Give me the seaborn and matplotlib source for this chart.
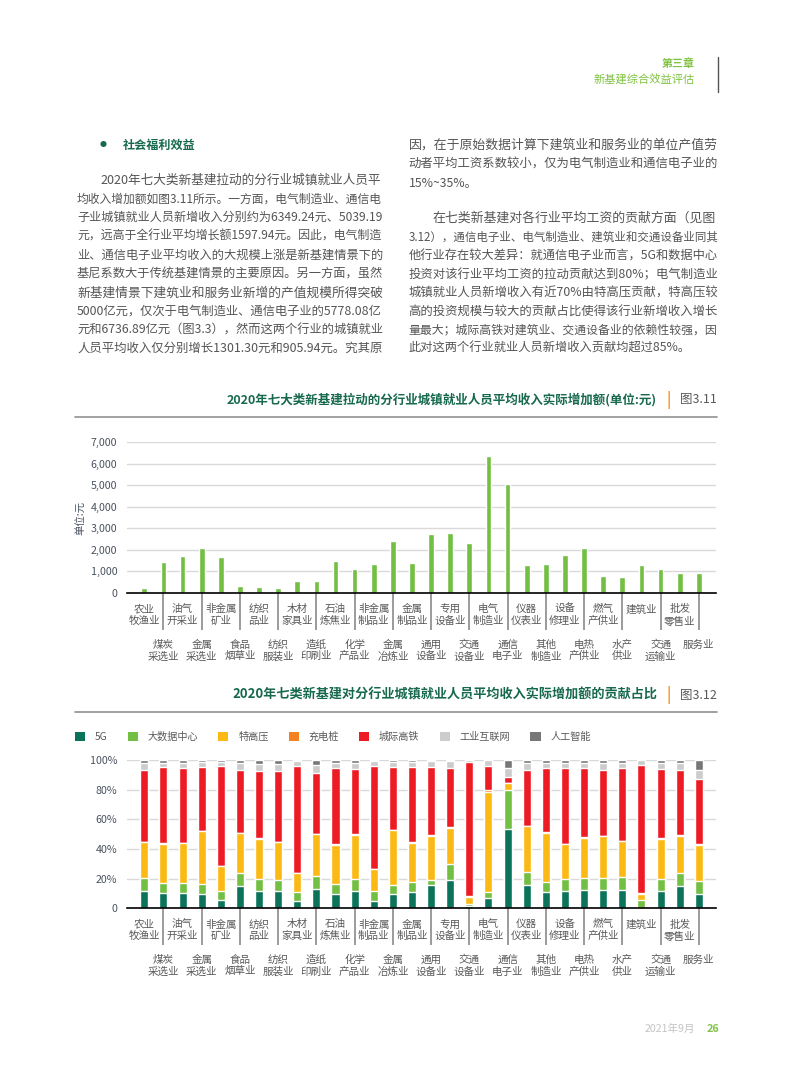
import matplotlib
matplotlib.use('Agg')
import matplotlib.pyplot as plt
import matplotlib.transforms as mtransforms
from matplotlib.lines import Line2D
from matplotlib.patches import Patch
from matplotlib.font_manager import FontProperties
import seaborn as sns
import numpy as np
import pandas as pd

# ---------------- data ----------------
categories = ['农业\n牧渔业', '煤炭\n采选业', '油气\n开采业', '金属\n采选业', '非金属\n矿业', '食品\n烟草业',
              '纺织\n品业', '纺织\n服装业', '木材\n家具业', '造纸\n印刷业', '石油\n炼焦业', '化学\n产品业',
              '非金属\n制品业', '金属\n冶炼业', '金属\n制品业', '通用\n设备业', '专用\n设备业', '交通\n设备业',
              '电气\n制造业', '通信\n电子业', '仪器\n仪表业', '其他\n制造业', '设备\n修理业', '电热\n产供业',
              '燃气\n产供业', '水产\n供业', '建筑业', '交通\n运输业', '批发\n零售业', '服务业']

income_increase = [212, 1450, 1710, 2090, 1675, 323, 277, 245, 570, 570, 1475, 1120, 1350, 2400, 1400,
                   2740, 2770, 2335, 6349.24, 5039.19, 1307, 1350, 1765, 2090, 770, 720, 1301.30, 1135, 905, 905.94]

series_names = ['5G', '大数据中心', '特高压', '充电桩', '城际高铁', '工业互联网', '人工智能']
share_5g = [11.9, 10.1, 10.1, 9.7, 5.6, 15.0, 11.9, 11.9, 4.9, 13.3, 9.4, 11.9, 5.2, 9.7, 11.0,
            15.7, 19.3, 1.8, 7.2, 53.5, 15.7, 11.0, 11.9, 12.6, 12.6, 12.6, 0.4, 11.9, 15.0, 9.7]
share_dc = [8.5, 7.2, 7.2, 6.7, 6.1, 8.8, 7.9, 7.4, 5.9, 8.7, 7.2, 7.9, 6.5, 6.3, 7.0,
            3.2, 10.8, 1.3, 3.8, 26.5, 8.6, 7.0, 8.1, 8.1, 8.1, 8.3, 5.2, 8.1, 9.0, 9.0]
share_uhv = [24.3, 26.3, 26.7, 35.5, 16.8, 27.0, 27.2, 25.2, 12.8, 27.9, 26.3, 29.9, 14.6, 36.6, 26.3,
             30.1, 24.1, 4.8, 67.7, 4.3, 31.2, 33.0, 23.1, 26.9, 27.8, 24.3, 4.1, 27.0, 24.8, 24.2]
share_charging = [0.3, 0.3, 0.3, 0.3, 0.3, 0.3, 0.3, 0.3, 0.3, 0.3, 0.3, 0.3, 0.3, 0.3, 0.3,
                  0.3, 0.3, 0.3, 1.0, 0.3, 0.3, 0.3, 0.3, 0.3, 0.3, 0.3, 0.3, 0.3, 0.3, 0.3]
share_rail = [48.5, 51.2, 50.5, 43.1, 66.9, 42.2, 45.3, 47.8, 72.3, 41.3, 51.6, 43.9, 69.6, 42.4, 50.5,
              45.8, 40.3, 90.7, 16.3, 3.9, 37.5, 43.5, 51.4, 46.7, 44.7, 49.3, 86.6, 46.9, 44.4, 44.2]
share_iiot = [4.3, 3.1, 3.4, 3.6, 3.2, 4.5, 4.7, 4.7, 2.9, 4.9, 3.4, 4.1, 3.3, 3.6, 3.8,
              4.4, 4.5, 0.9, 4.0, 6.3, 4.5, 3.4, 3.4, 3.6, 4.3, 3.4, 3.4, 4.0, 4.7, 5.9]
share_ai = [2.2, 1.8, 1.8, 1.1, 1.1, 2.2, 2.7, 2.7, 0.9, 3.6, 1.8, 2.0, 0.5, 1.1, 1.1,
            0.5, 0.7, 0.2, 0.0, 5.2, 2.2, 1.8, 1.8, 1.8, 2.2, 1.8, 0.0, 1.8, 1.8, 6.7]
series_colors = ['#0b735a', '#72bf44', '#fdb913', '#f58220', '#ed1c24', '#cccccc', '#777777']

y1_ticks = [0, 1000, 2000, 3000, 4000, 5000, 6000, 7000]
y2_ticks = [0, 20, 40, 60, 80, 100]
y2_labels = ['0', '20%', '40%', '60%', '80%', '100%']

left_par = [
    '2020年七大类新基建拉动的分行业城镇就业人员平',
    '均收入增加额如图3.11所示。一方面，电气制造业、通信电',
    '子业城镇就业人员新增收入分别约为6349.24元、5039.19',
    '元，远高于全行业平均增长额1597.94元。因此，电气制造',
    '业、通信电子业平均收入的大规模上涨是新基建情景下的',
    '基尼系数大于传统基建情景的主要原因。另一方面，虽然',
    '新基建情景下建筑业和服务业新增的产值规模所得突破',
    '5000亿元，仅次于电气制造业、通信电子业的5778.08亿',
    '元和6736.89亿元（图3.3），然而这两个行业的城镇就业',
    '人员平均收入仅分别增长1301.30元和905.94元。究其原',
]
right_par1 = [
    '因，在于原始数据计算下建筑业和服务业的单位产值劳',
    '动者平均工资系数较小，仅为电气制造业和通信电子业的',
    '15%~35%。',
]
right_par2 = [
    '在七类新基建对各行业平均工资的贡献方面（见图',
    '3.12），通信电子业、电气制造业、建筑业和交通设备业同其',
    '他行业存在较大差异：就通信电子业而言，5G和数据中心',
    '投资对该行业平均工资的拉动贡献达到80%；电气制造业',
    '城镇就业人员新增收入有近70%由特高压贡献，特高压较',
    '高的投资规模与较大的贡献占比使得该行业新增收入增长',
    '量最大；城际高铁对建筑业、交通设备业的依赖性较强，因',
    '此对这两个行业就业人员新增收入贡献均超过85%。',
]

# ---------------- setup ----------------
sns.set_theme(style='white')
plt.rcParams['font.family'] = ['Noto Sans CJK SC', 'DejaVu Sans']
plt.rcParams['axes.unicode_minus'] = False

W, H = 793, 1077
fig = plt.figure(figsize=(W / 100, H / 100), dpi=100)
fig.patch.set_facecolor('white')
renderer = fig.canvas.get_renderer()


def fx(px):
    return px / W


def fy(py):
    return 1 - py / H


def ftext(x, y, s, size, color, weight='normal', ha='left', va='center', **kw):
    return fig.text(fx(x), fy(y), s, fontsize=size, color=color, fontweight=weight,
                    ha=ha, va=va, **kw)


def jline(x0, x1, y, s, base=8.8, color='#555555', justify=True):
    size = base
    if justify:
        fp = FontProperties(family='Noto Sans CJK SC', size=base)
        w, h, d = renderer.get_text_width_height_descent(s, fp, ismath=False)
        scale = (x1 - x0) / w
        scale = min(max(scale, 0.92), 1.08)
        size = base * scale
    ftext(x0, y, s, size, color)


def fline(x0, y0, x1, y1, color, lw):
    fig.add_artist(Line2D([fx(x0), fx(x1)], [fy(y0), fy(y1)], transform=fig.transFigure,
                          color=color, lw=lw))


GREEN_HDR = '#80c342'
DARK_GREEN = '#17694e'
BODY = '#555555'
AXIS_TXT = '#4a5260'
LABEL_TXT = '#595959'

# ---------------- header / footer ----------------
ftext(694.5, 64, '第三章', 7.9, GREEN_HDR, weight='bold', ha='right')
ftext(694.5, 80, '新基建综合效益评估', 8.1, GREEN_HDR, ha='right')
fline(717.7, 57, 717.7, 92, '#555555', 1.0)
ftext(695, 1029, '2021年9月', 7.6, '#c4c4c4', ha='right')
ftext(707, 1029, '26', 7.8, GREEN_HDR, weight='bold')

# ---------------- body text ----------------
ftext(102.7, 145, '●', 5, DARK_GREEN, ha='center')
ftext(123, 145, '社会福利效益', 8.7, DARK_GREEN, weight='bold')

left_y = [180, 199, 217.5, 236.5, 255, 274, 293, 311.5, 330, 348.5]
for i, (yy, s) in enumerate(zip(left_y, left_par)):
    x0 = 101 if i == 0 else 77
    jline(x0, 383.5, yy, s)

right_y1 = [145, 164.5, 183.5]
for i, (yy, s) in enumerate(zip(right_y1, right_par1)):
    jline(408.5, 718, yy, s, justify=(i < len(right_par1) - 1))
right_y2 = [218, 237, 256, 274.5, 293, 311.5, 330, 348.5]
for i, (yy, s) in enumerate(zip(right_y2, right_par2)):
    x0 = 433 if i == 0 else 408.5
    jline(x0, 718, yy, s, justify=(i < len(right_par2) - 1))

# ---------------- chart titles ----------------
def chart_title(y, title, fig_no, size):
    ftext(657, y, title, size, DARK_GREEN, weight='bold', ha='right')
    ftext(669, y, '|', 10.5, '#f7941d', ha='center', weight='bold')
    ftext(680, y, fig_no, 9.0, LABEL_TXT)
    fline(75, y + 17, 717, y + 17, '#9a9a9a', 1.3)


chart_title(400, '2020年七大类新基建拉动的分行业城镇就业人员平均收入实际增加额(单位:元)', '图3.11', 9.0)
chart_title(695, '2020年七类新基建对分行业城镇就业人员平均收入实际增加额的贡献占比', '图3.12', 9.45)

n = len(categories)
pos = np.arange(n)
xlim = (-0.905, 29.9)
even = pos[0::2]
odd = pos[1::2]


def style_cat_axis(ax, sep_len_axes):
    ax.set_xlim(*xlim)
    ax.set_xlabel('')
    ax.set_xticks(even, [categories[i] for i in even])
    ax.set_xticks(odd, [categories[i] for i in odd], minor=True)
    ax.tick_params(axis='x', which='both', length=0, labelsize=7.6, labelcolor=LABEL_TXT)
    ax.tick_params(axis='x', which='major', pad=8)
    ax.tick_params(axis='x', which='minor', pad=33.5)
    ax.tick_params(axis='y', length=0, labelsize=7.7, labelcolor=AXIS_TXT, pad=7)
    for s in ['top', 'right', 'left']:
        ax.spines[s].set_visible(False)
    ax.spines['bottom'].set_color('#000000')
    ax.spines['bottom'].set_linewidth(1.2)
    ax.yaxis.grid(True, color='#d9d9d9', lw=1.0)
    ax.xaxis.grid(False)
    ax.set_axisbelow(True)
    trans = mtransforms.blended_transform_factory(ax.transData, ax.transAxes)
    for i in odd:
        ax.plot([i, i], [0, -sep_len_axes], transform=trans, color='#808080', lw=1.1,
                clip_on=False, solid_capstyle='butt')


# ---------------- chart 1 ----------------
ax1 = fig.add_axes([fx(127), fy(593), fx(716) - fx(127), (593 - 442) / H])
df1 = pd.DataFrame({'industry': categories, 'value': income_increase})
sns.barplot(data=df1, x='industry', y='value', color='#72bf44', saturation=1, width=0.3, ax=ax1)
ax1.set_ylim(0, 7000)
ax1.set_yticks(y1_ticks, [f'{v:,}' for v in y1_ticks])
style_cat_axis(ax1, 37 / 151)
ax1.set_ylabel('单位:元', fontsize=7.5, color=AXIS_TXT)
ax1.yaxis.set_label_coords((86.5 - 127) / 589, 0.497)

# ---------------- chart 2 ----------------
ax2 = fig.add_axes([fx(127), fy(908.3), fx(716) - fx(127), (908.3 - 760) / H])
shares = [share_5g, share_dc, share_uhv, share_charging, share_rail, share_iiot, share_ai]
cum = np.cumsum(np.array(shares), axis=0)
for k in range(len(shares) - 1, -1, -1):
    dfk = pd.DataFrame({'industry': categories, 'cum': cum[k]})
    sns.barplot(data=dfk, x='industry', y='cum', color=series_colors[k], saturation=1,
                width=0.42, ax=ax2)
ax2.set_ylim(0, 100)
ax2.set_yticks(y2_ticks, y2_labels)
ax2.set_ylabel('')
style_cat_axis(ax2, 37 / 148.3)

handles = [Patch(facecolor=c, edgecolor='none', label=l) for c, l in zip(series_colors, series_names)]
ax2.legend(handles=handles, loc='center left', bbox_to_anchor=(fx(75), fy(737)),
           bbox_transform=fig.transFigure, ncol=7, frameon=False, fontsize=7.3,
           handlelength=1.0, handleheight=1.0, handletextpad=0.95, columnspacing=2.0,
           borderpad=0, borderaxespad=0, labelcolor=LABEL_TXT)

fig.savefig('out.png', dpi=100, facecolor='white')
